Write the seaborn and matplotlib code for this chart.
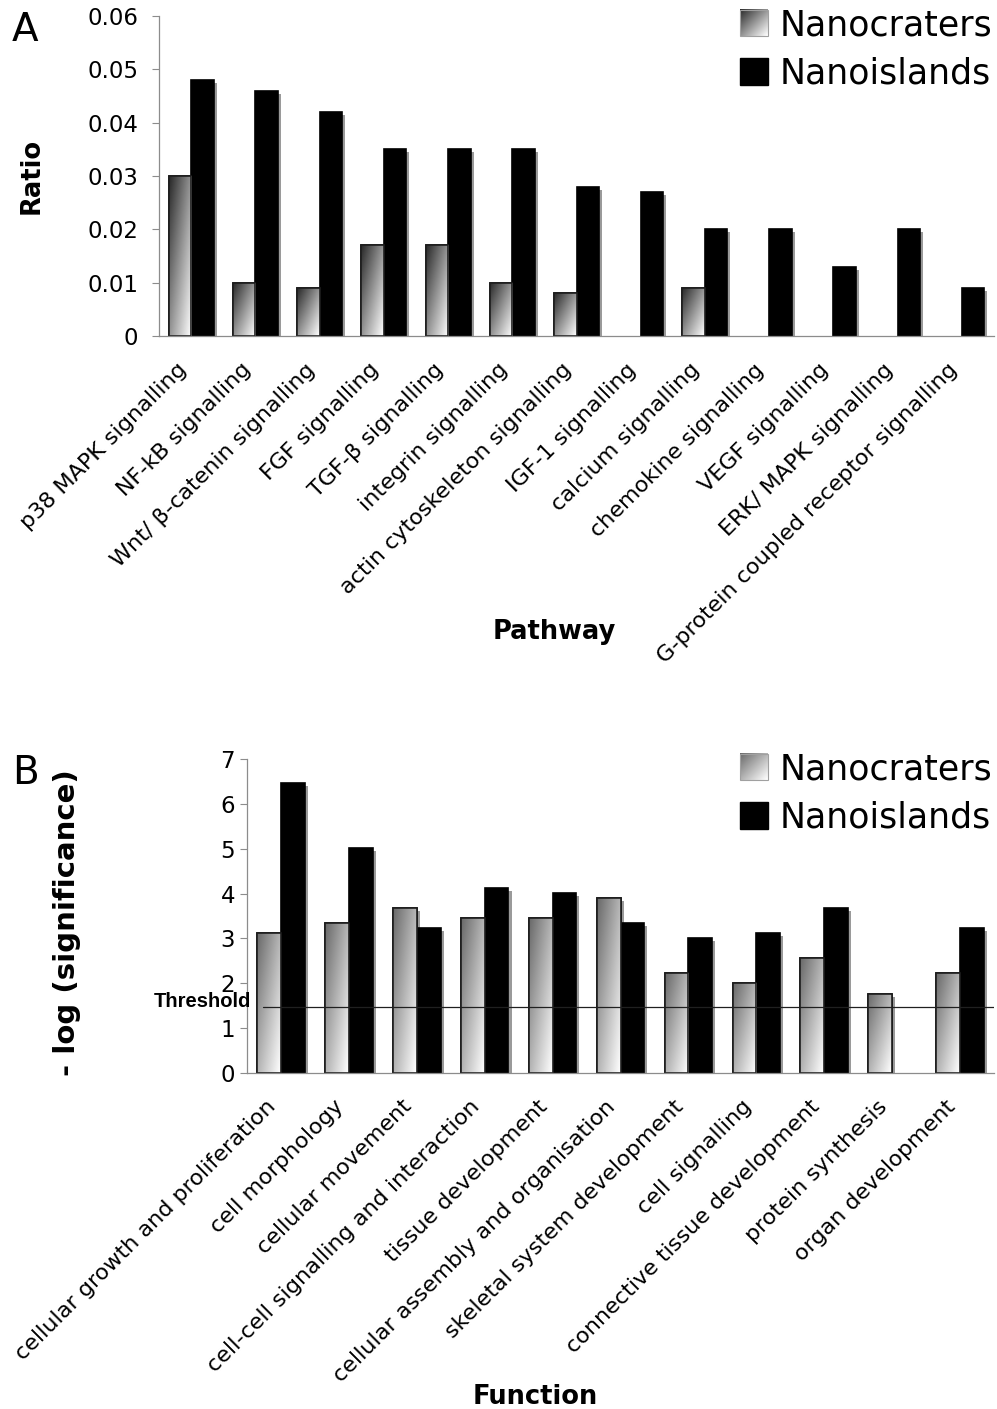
import numpy as np
import pandas as pd
import matplotlib
matplotlib.use("Agg")
import matplotlib.pyplot as plt
import matplotlib.patheffects as pe
import seaborn as sns
from matplotlib.colors import LinearSegmentedColormap
from matplotlib.patches import Patch, Rectangle
from matplotlib.legend_handler import HandlerBase
from matplotlib.image import BboxImage
from matplotlib.transforms import Bbox, TransformedBbox, ScaledTranslation, blended_transform_factory

# ---- data: panel A (pathways) ----
pathways = ["p38 MAPK signalling", "NF-kB signalling", "Wnt/ \u03b2-catenin signalling",
            "FGF signalling", "TGF-\u03b2 signalling", "integrin signalling",
            "actin cytoskeleton signalling", "IGF-1 signalling", "calcium signalling",
            "chemokine signalling", "VEGF signalling", "ERK/ MAPK signalling",
            "G-protein coupled receptor signalling"]
ratio_craters = [0.030, 0.010, 0.009, 0.017, 0.017, 0.010, 0.008, 0, 0.009, 0, 0, 0, 0]
ratio_islands = [0.048, 0.046, 0.042, 0.035, 0.035, 0.035, 0.028, 0.027, 0.020, 0.020, 0.013, 0.020, 0.009]
ratio_ticks = [0, 0.01, 0.02, 0.03, 0.04, 0.05, 0.06]
ratio_ticklabels = ["0", "0.01", "0.02", "0.03", "0.04", "0.05", "0.06"]

# ---- data: panel B (functions) ----
functions = ["cellular growth and proliferation", "cell morphology", "cellular movement",
             "cell-cell signalling and interaction", "tissue development",
             "cellular assembly and organisation", "skeletal system development",
             "cell signalling", "connective tissue development", "protein synthesis",
             "organ development"]
sig_craters = [3.12, 3.34, 3.68, 3.45, 3.45, 3.90, 2.22, 2.00, 2.56, 1.77, 2.22]
sig_islands = [6.46, 5.01, 3.23, 4.12, 4.01, 3.34, 3.01, 3.12, 3.68, 0, 3.23]
sig_ticks = [0, 1, 2, 3, 4, 5, 6, 7]
threshold = 1.47

groups = ["Nanocraters", "Nanoislands"]

df_a = pd.DataFrame({
    "pathway": pathways * 2,
    "ratio": ratio_craters + ratio_islands,
    "substrate": [groups[0]] * len(pathways) + [groups[1]] * len(pathways),
})
df_b = pd.DataFrame({
    "function": functions * 2,
    "sig": sig_craters + sig_islands,
    "substrate": [groups[0]] * len(functions) + [groups[1]] * len(functions),
})

sns.set_style("white")
plt.rcParams["font.family"] = ["DejaVu Sans"]
plt.rcParams["text.color"] = "black"
plt.rcParams["axes.labelcolor"] = "black"
plt.rcParams["xtick.color"] = "black"
plt.rcParams["ytick.color"] = "black"

W, H = 997, 1409
fig = plt.figure(figsize=(W / 100, H / 100), dpi=100)

GRAY = "#8c8c8c"
shadow = [pe.SimplePatchShadow(offset=(2.2, -2.2), shadow_rgbFace="#9a9a9a", alpha=1.0), pe.Normal()]

grid_y, grid_x = np.mgrid[0:1:80j, 0:1:20j]
GRAD = (grid_x + (1 - grid_y)) / 2


class GradientHandler(HandlerBase):
    def __init__(self, cmap):
        super().__init__()
        self.cmap = cmap

    def create_artists(self, legend, orig_handle, xdescent, ydescent, width, height, fontsize, trans):
        bb = TransformedBbox(Bbox.from_bounds(-xdescent, -ydescent, width, height), trans)
        img = BboxImage(bb, cmap=self.cmap, interpolation="bilinear", origin="lower")
        img.set_data(GRAD)
        img.set_clim(0, 1)
        edge = Rectangle((-xdescent, -ydescent), width, height, fill=False,
                         ec="#a0a0a0", lw=0.8, transform=trans)
        return [img, edge]


def draw_panel(ax, df, xcol, ycol, cats, dark, ymax, ticks, ticklabels, ypad):
    sns.barplot(data=df, x=xcol, y=ycol, hue="substrate", order=cats, hue_order=groups,
                palette={groups[0]: "white", groups[1]: "black"}, width=0.7,
                edgecolor="black", linewidth=1.2, legend=False, ax=ax, zorder=2)
    cmap = LinearSegmentedColormap.from_list("crater", [dark, "#ffffff"])
    for bar in ax.containers[0]:
        h = bar.get_height()
        if h == 0:
            bar.set_visible(False)
            continue
        bar.set_path_effects(shadow)
        x0, w = bar.get_x(), bar.get_width()
        im = ax.imshow(GRAD, cmap=cmap, vmin=0, vmax=1, origin="lower",
                       extent=(x0, x0 + w, 0, h), aspect="auto",
                       interpolation="bilinear", zorder=2.1)
        im.set_clip_path(bar)
        ax.add_patch(Rectangle((x0, 0), w, h, fill=False, ec="#1e1e1e", lw=1.2, zorder=2.2))
    for bar in ax.containers[1]:
        if bar.get_height() == 0:
            bar.set_visible(False)
            continue
        bar.set_path_effects(shadow)

    n = len(cats)
    ax.set_xlim(-0.5, n - 0.5)
    ax.set_ylim(0, ymax)
    ax.set_yticks(ticks)
    ax.set_yticklabels(ticklabels, fontsize=16.5)
    ax.set_xticks(range(n))
    ax.set_xticklabels(cats, rotation=45, ha="right", va="center",
                       rotation_mode="anchor", fontsize=16)
    ax.set_xticks(np.arange(-0.5, n, 1.0), minor=True)
    ax.tick_params(axis="x", which="major", length=0, pad=22)
    ax.tick_params(axis="x", which="minor", length=5, width=0.8, color=GRAY, direction="out")
    ax.tick_params(axis="y", which="major", length=5, width=0.8, color=GRAY,
                   direction="out", left=True, pad=ypad)
    # nudge the slanted category labels a little to the left
    shift = ScaledTranslation(-0.08, 0, fig.dpi_scale_trans)
    for lab in ax.get_xticklabels():
        lab.set_transform(lab.get_transform() + shift)
    ax.set_xlabel("")
    ax.set_ylabel("")
    for side in ["top", "right"]:
        ax.spines[side].set_visible(False)
    for side in ["left", "bottom"]:
        ax.spines[side].set_color(GRAY)
        ax.spines[side].set_linewidth(0.9)

    handles = [Patch(facecolor="white", edgecolor="#a0a0a0"),
               Patch(facecolor="black", edgecolor="black")]
    return handles, cmap


legend_kw = dict(loc="upper right", bbox_transform=fig.transFigure, frameon=False,
                 fontsize=25, handlelength=0.8, handleheight=0.8, handletextpad=0.32,
                 labelspacing=0.42, borderpad=0, borderaxespad=0)

# ---- panel A ----
ax_a = fig.add_axes([159 / W, 1 - 336 / H, 835 / W, 320 / H])
h_a, cmap_a = draw_panel(ax_a, df_a, "pathway", "ratio", pathways, "#2a2a2a", 0.06,
                         ratio_ticks, ratio_ticklabels, 10)
ax_a.legend(h_a, groups, bbox_to_anchor=(992 / W, 1 - 8 / H),
            handler_map={h_a[0]: GradientHandler(cmap_a)}, **legend_kw)

# ---- panel B ----
ax_b = fig.add_axes([247 / W, 1 - 1073 / H, 747 / W, 314 / H])
h_b, cmap_b = draw_panel(ax_b, df_b, "function", "sig", functions, "#6a6a6a", 7,
                         sig_ticks, [str(t) for t in sig_ticks], 3.5)
ax_b.axhline(threshold, xmin=0.021, xmax=1, color="#202020", lw=0.9, zorder=3)
ax_b.text(0.005, threshold, "Threshold",
          transform=blended_transform_factory(ax_b.transAxes, ax_b.transData),
          ha="right", va="baseline", fontsize=14.5, fontweight="bold",
          family=["Liberation Sans", "DejaVu Sans"])
ax_b.legend(h_b, groups, bbox_to_anchor=(992 / W, 1 - 752 / H),
            handler_map={h_b[0]: GradientHandler(cmap_b)}, **legend_kw)

# ---- axis titles and panel letters ----
fig.text(32 / W, 1 - 176 / H, "Ratio", rotation=90, ha="center", va="center",
         fontsize=18.5, fontweight="bold")
fig.text(67 / W, 1 - 923 / H, "- log (significance)", rotation=90, ha="center", va="center",
         fontsize=21, fontweight="bold")
fig.text(554 / W, 1 - 632 / H, "Pathway", ha="center", va="center", fontsize=18.5, fontweight="bold")
fig.text(535 / W, 1 - 1397 / H, "Function", ha="center", va="center", fontsize=18.5, fontweight="bold")
fig.text(12 / W, 1 - 41 / H, "A", ha="left", va="baseline", fontsize=28)
fig.text(12 / W, 1 - 784 / H, "B", ha="left", va="baseline", fontsize=28)

fig.savefig("out.png", dpi=100)
